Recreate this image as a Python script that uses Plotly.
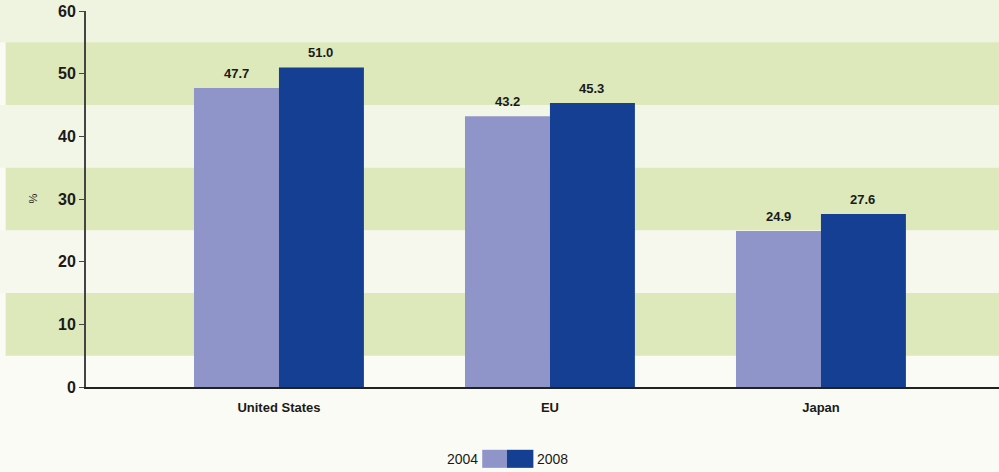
import plotly.graph_objects as go

regions = ["United States", "EU", "Japan"]
share_2004 = [47.7, 43.2, 24.9]
share_2008 = [51.0, 45.3, 27.6]
y_ticks = [0, 10, 20, 30, 40, 50, 60]
y_max = 60

# horizontal background stripes (value ranges) and the lighter gaps between them
stripes = [(5, 15), (25, 35), (45, 55)]
gaps = [(15, 25, "#f6f8ee"), (35, 45, "#f2f6e6"), (55, 64, "#eff4e0")]

C_2004 = "#8f95c8"
C_2008 = "#143f93"
FONT = "Liberation Sans, Arial, sans-serif"
INK = "#1a1a1a"


def frac(v):
    return v / y_max


fig = go.Figure()
fig.add_trace(go.Bar(x=regions, y=share_2004, name="2004",
                     marker=dict(color=C_2004, line=dict(width=0))))
fig.add_trace(go.Bar(x=regions, y=share_2008, name="2008",
                     marker=dict(color=C_2008, line=dict(width=0))))

# value labels above each bar, nudged left/right onto their bar
for values, shift in [(share_2004, -42), (share_2008, 42)]:
    for region, v in zip(regions, values):
        fig.add_annotation(x=region, y=v, text=f"{v:.1f}", showarrow=False,
                           xshift=shift, yshift=5, yanchor="bottom",
                           font=dict(size=13, color=INK, family=FONT, weight="bold"))

for lo, hi, col in gaps:
    fig.add_shape(type="rect", xref="paper", yref="paper", x0=-0.1, x1=1.0,
                  y0=frac(lo), y1=frac(hi), fillcolor=col, line_width=0, layer="below")
for lo, hi in stripes:
    fig.add_shape(type="rect", xref="paper", yref="paper", x0=-0.088, x1=1.0,
                  y0=frac(lo), y1=frac(hi), fillcolor="#dde8bb", line_width=0, layer="below")

# legend: "2004 [] [] 2008"
fig.add_shape(type="rect", xref="paper", yref="paper", x0=0.434, x1=0.461,
              y0=-0.215, y1=-0.167, fillcolor=C_2004, line_width=0)
fig.add_shape(type="rect", xref="paper", yref="paper", x0=0.461, x1=0.490,
              y0=-0.215, y1=-0.167, fillcolor=C_2008, line_width=0)
fig.add_annotation(text="2004", xref="paper", yref="paper", x=0.432, y=-0.191,
                   xanchor="right", yanchor="middle", showarrow=False,
                   font=dict(size=14, color=INK, family=FONT))
fig.add_annotation(text="2008", xref="paper", yref="paper", x=0.492, y=-0.191,
                   xanchor="left", yanchor="middle", showarrow=False,
                   font=dict(size=14, color=INK, family=FONT))
fig.add_annotation(text="%", xref="paper", yref="paper", x=-0.0585, y=0.5,
                   xshift=-8, textangle=-90, showarrow=False,
                   font=dict(size=11, color=INK, family=FONT))

fig.update_layout(
    width=999,
    height=472,
    margin=dict(l=86, r=0, t=11, b=85),
    paper_bgcolor="#fafbf5",
    plot_bgcolor="rgba(0,0,0,0)",
    barmode="group",
    bargap=0.373,
    bargroupgap=0,
    showlegend=False,
    xaxis=dict(
        type="category",
        range=[-0.712, 2.657],
        showline=True,
        linecolor="#222222",
        linewidth=2,
        ticks="",
        showgrid=False,
        ticklabelstandoff=7,
        tickfont=dict(size=13, color=INK, family=FONT, weight="bold"),
    ),
    yaxis=dict(
        range=[0, y_max],
        tickvals=y_ticks,
        showline=True,
        linecolor="#444444",
        linewidth=2,
        ticks="outside",
        ticklen=5,
        tickcolor="#444444",
        showgrid=False,
        zeroline=False,
        tickfont=dict(size=16, color=INK, family=FONT, weight="bold"),
    ),
)

# drop the browser's default page margin so the figure fills the window
fig.write_html(
    "out.html",
    config={"displayModeBar": False},
    post_script="document.body.style.margin='0';document.body.style.overflow='hidden';",
)
